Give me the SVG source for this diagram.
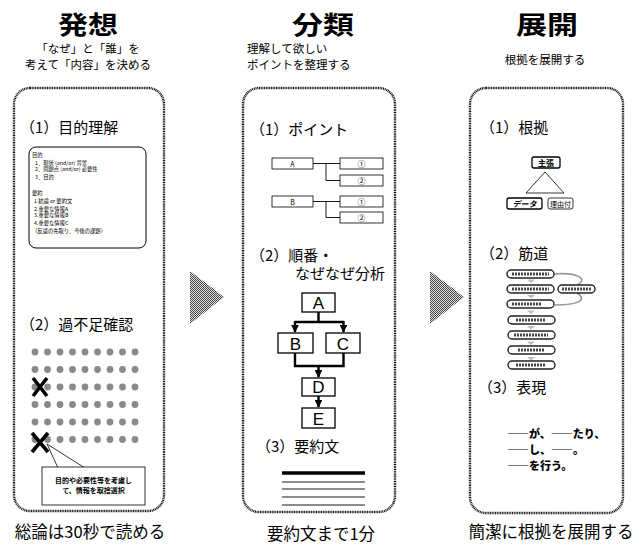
<svg xmlns="http://www.w3.org/2000/svg" width="639" height="550" viewBox="0 0 639 550">
<defs>
<pattern id="chk" width="2" height="2" patternUnits="userSpaceOnUse"><rect width="2" height="2" fill="#e0e0e0"/><rect width="1" height="1" fill="#444"/><rect x="1" y="1" width="1" height="1" fill="#444"/></pattern>
<marker id="ah" viewBox="0 0 10 10" refX="9" refY="5" markerWidth="3.2" markerHeight="3.2" orient="auto"><path d="M0,0 L10,5 L0,10 z" fill="#000"/></marker>
<style>
text{font-family:"Noto Sans CJK JP","Noto Sans",sans-serif;fill:#000}
.title{font-size:25px;font-weight:bold;text-anchor:middle}
.sub{font-size:11.5px}
.h{font-size:15px}
.foot{font-size:16.5px;text-anchor:middle}
.memo{font-size:5.3px}
.panel{fill:none;stroke:#111;stroke-width:2.4;stroke-dasharray:1 0.7}
.dot{fill:#8a8a8a}
.x{stroke:#000;stroke-width:3.6;stroke-linecap:butt}
.bx{fill:#fff;stroke:#000;stroke-width:0.8}
.fb{fill:#fff;stroke:#000;stroke-width:1.3}
.fl{font-family:"Liberation Sans",Arial,sans-serif;font-size:17px;text-anchor:middle}
.fa{fill:none;stroke:#000;stroke-width:2.4}
.pill{fill:#fff;stroke:#222;stroke-width:1.4}
.blur{stroke:#444;stroke-width:3;stroke-dasharray:2 1}
.ga{fill:#bbb}
.exp{font-size:11px;font-weight:900}
.tri{fill:url(#chk)}
</style>
</defs>

<g id="titles">
<text class="title" x="88" y="34" textLength="60" lengthAdjust="spacingAndGlyphs">発想</text>
<text class="title" x="323" y="34" textLength="62" lengthAdjust="spacingAndGlyphs">分類</text>
<text class="title" x="547" y="34" textLength="62" lengthAdjust="spacingAndGlyphs">展開</text>
<text class="sub" x="88" y="53" text-anchor="middle">「なぜ」と「誰」を</text>
<text class="sub" x="88" y="69" text-anchor="middle">考えて「内容」を決める</text>
<text class="sub" x="247" y="53">理解して欲しい</text>
<text class="sub" x="247" y="69">ポイントを整理する</text>
<text class="sub" x="545" y="64" text-anchor="middle">根拠を展開する</text>
</g>

<g id="arrows-between">
<polygon class="tri" points="190,271 224,297 190,324"/>
<polygon class="tri" points="430,271 464,297 430,324"/>
</g>

<g id="panel1">
<rect class="panel" x="14" y="88" width="150" height="423" rx="16"/>
<text class="h" x="20" y="133">（1）目的理解</text>
<rect x="29" y="147" width="117" height="101" rx="7" fill="#fff" stroke="#000" stroke-width="1"/>
<text class="memo" x="32" y="157">目的</text>
<text class="memo" x="35" y="164.5">1．現状 (and/or) 背景</text>
<text class="memo" x="35" y="171">2．問題点 (and/or) 必要性</text>
<text class="memo" x="35" y="179">3．目的</text>
<text class="memo" x="32" y="195">要約</text>
<text class="memo" x="34" y="202.5">1 結論 or 要約文</text>
<text class="memo" x="34" y="210.5">2.重要な情報A</text>
<text class="memo" x="34" y="217">3.重要な情報B</text>
<text class="memo" x="34" y="225">4.重要な情報C</text>
<text class="memo" x="32" y="232.5">（反論の先取り、今後の課題）</text>
<text class="h" x="20" y="330">（2）過不足確認</text>
<g id="dots">
<circle class="dot" cx="35" cy="352" r="3.4"/><circle class="dot" cx="47.5" cy="352" r="3.4"/><circle class="dot" cx="60" cy="352" r="3.4"/><circle class="dot" cx="72.5" cy="352" r="3.4"/><circle class="dot" cx="85" cy="352" r="3.4"/><circle class="dot" cx="97.5" cy="352" r="3.4"/><circle class="dot" cx="110" cy="352" r="3.4"/><circle class="dot" cx="122.5" cy="352" r="3.4"/><circle class="dot" cx="135" cy="352" r="3.4"/>
<circle class="dot" cx="35" cy="369.5" r="3.4"/><circle class="dot" cx="47.5" cy="369.5" r="3.4"/><circle class="dot" cx="60" cy="369.5" r="3.4"/><circle class="dot" cx="72.5" cy="369.5" r="3.4"/><circle class="dot" cx="85" cy="369.5" r="3.4"/><circle class="dot" cx="97.5" cy="369.5" r="3.4"/><circle class="dot" cx="110" cy="369.5" r="3.4"/><circle class="dot" cx="122.5" cy="369.5" r="3.4"/><circle class="dot" cx="135" cy="369.5" r="3.4"/>
<circle class="dot" cx="35" cy="387" r="3.4"/><circle class="dot" cx="47.5" cy="387" r="3.4"/><circle class="dot" cx="60" cy="387" r="3.4"/><circle class="dot" cx="72.5" cy="387" r="3.4"/><circle class="dot" cx="85" cy="387" r="3.4"/><circle class="dot" cx="97.5" cy="387" r="3.4"/><circle class="dot" cx="110" cy="387" r="3.4"/><circle class="dot" cx="122.5" cy="387" r="3.4"/><circle class="dot" cx="135" cy="387" r="3.4"/>
<circle class="dot" cx="35" cy="404.5" r="3.4"/><circle class="dot" cx="47.5" cy="404.5" r="3.4"/><circle class="dot" cx="60" cy="404.5" r="3.4"/><circle class="dot" cx="72.5" cy="404.5" r="3.4"/><circle class="dot" cx="85" cy="404.5" r="3.4"/><circle class="dot" cx="97.5" cy="404.5" r="3.4"/><circle class="dot" cx="110" cy="404.5" r="3.4"/><circle class="dot" cx="122.5" cy="404.5" r="3.4"/><circle class="dot" cx="135" cy="404.5" r="3.4"/>
<circle class="dot" cx="35" cy="422" r="3.4"/><circle class="dot" cx="47.5" cy="422" r="3.4"/><circle class="dot" cx="60" cy="422" r="3.4"/><circle class="dot" cx="72.5" cy="422" r="3.4"/><circle class="dot" cx="85" cy="422" r="3.4"/><circle class="dot" cx="97.5" cy="422" r="3.4"/><circle class="dot" cx="110" cy="422" r="3.4"/><circle class="dot" cx="122.5" cy="422" r="3.4"/><circle class="dot" cx="135" cy="422" r="3.4"/>
<circle class="dot" cx="35" cy="439.5" r="3.4"/><circle class="dot" cx="47.5" cy="439.5" r="3.4"/><circle class="dot" cx="60" cy="439.5" r="3.4"/><circle class="dot" cx="72.5" cy="439.5" r="3.4"/><circle class="dot" cx="85" cy="439.5" r="3.4"/><circle class="dot" cx="97.5" cy="439.5" r="3.4"/><circle class="dot" cx="110" cy="439.5" r="3.4"/><circle class="dot" cx="122.5" cy="439.5" r="3.4"/><circle class="dot" cx="135" cy="439.5" r="3.4"/>
</g>
<path class="x" d="M33,378 L47,396 M47,378 L33,396"/>
<path class="x" d="M32,433 L48,452 M48,433 L32,452"/>
<path d="M47,444 L58,468 M47,444 L85,468" fill="none" stroke="#000" stroke-width="0.8"/>
<rect class="bx" x="42" y="467" width="103" height="38"/>
<text x="93.5" y="483" font-size="7" font-weight="bold" text-anchor="middle">目的や必要性等を考慮し</text>
<text x="93.5" y="493" font-size="7" font-weight="bold" text-anchor="middle">て、情報を取捨選択</text>
<text class="foot" x="90" y="538">総論は30秒で読める</text>
</g>

<g id="panel2">
<rect class="panel" x="243" y="88" width="152" height="424" rx="16"/>
<text class="h" x="250" y="135">（1）ポイント</text>
<rect class="bx" x="272" y="158" width="41" height="11"/><text x="292.5" y="166.5" font-size="7" font-family="Liberation Sans" text-anchor="middle">A</text>
<rect class="bx" x="340" y="158" width="43" height="11"/><text x="361.5" y="166.5" font-size="8" text-anchor="middle">①</text>
<rect class="bx" x="340" y="175" width="43" height="11"/><text x="361.5" y="183.5" font-size="8" text-anchor="middle">②</text>
<path d="M313,163.5 H340 M326,163.5 V180.5 H340" fill="none" stroke="#000" stroke-width="0.9"/>
<rect class="bx" x="272" y="196" width="41" height="11"/><text x="292.5" y="204.5" font-size="7" font-family="Liberation Sans" text-anchor="middle">B</text>
<rect class="bx" x="340" y="196" width="43" height="11"/><text x="361.5" y="204.5" font-size="8" text-anchor="middle">①</text>
<rect class="bx" x="340" y="212" width="43" height="11"/><text x="361.5" y="220.5" font-size="8" text-anchor="middle">②</text>
<path d="M313,201.5 H340 M326,201.5 V217.5 H340" fill="none" stroke="#000" stroke-width="0.9"/>
<text class="h" x="250" y="261">（2）順番・</text>
<text class="h" x="295" y="279">なぜなぜ分析</text>
<g id="flow">
<rect class="fb" x="302" y="293" width="33" height="19"/><text class="fl" x="318.5" y="309">A</text>
<rect class="fb" x="278" y="333" width="35" height="20"/><text class="fl" x="295.5" y="349.5">B</text>
<rect class="fb" x="326" y="333" width="34" height="20"/><text class="fl" x="343" y="349.5">C</text>
<rect class="fb" x="302" y="378" width="33" height="18"/><text class="fl" x="318.5" y="393">D</text>
<rect class="fb" x="302" y="408" width="33" height="20"/><text class="fl" x="318.5" y="424.5">E</text>
</g>
<g id="connectors">
<path class="fa" d="M318.5,312 V322 M295,322 H344"/>
<path class="fa" d="M295,321 V332" marker-end="url(#ah)"/>
<path class="fa" d="M343.5,321 V332" marker-end="url(#ah)"/>
<path class="fa" d="M295,353 V366 H343.5 V353"/>
<path class="fa" d="M318.5,366 V377" marker-end="url(#ah)"/>
<path class="fa" d="M318.5,396 V407" marker-end="url(#ah)"/>
</g>
<text class="h" x="256" y="452">（3）要約文</text>
<path d="M282,473 H365" stroke="#000" stroke-width="3.4"/>
<path d="M282,482 H365 M282,489 H365 M282,497 H365 M282,505 H365" stroke="#000" stroke-width="0.9"/>
<text class="foot" x="321" y="540">要約文まで1分</text>
</g>

<g id="panel3">
<rect class="panel" x="470" y="88" width="153" height="425" rx="16"/>
<text class="h" x="480" y="133">（1）根拠</text>
<rect x="532" y="157" width="28" height="11" rx="2" fill="#fff" stroke="#000" stroke-width="1.3"/>
<text x="546" y="165.5" font-size="8" font-weight="bold" text-anchor="middle">主張</text>
<path d="M545,172 L526,193 H564 Z" fill="none" stroke="#000" stroke-width="0.8"/>
<rect x="507" y="198" width="35" height="11" rx="2" fill="#fff" stroke="#000" stroke-width="1.3"/>
<text x="524.5" y="206.5" font-size="8" font-weight="bold" font-style="italic" text-anchor="middle">データ</text>
<rect x="548" y="198" width="25" height="11" rx="2" fill="#fff" stroke="#000" stroke-width="0.8"/>
<text x="560.5" y="206.5" font-size="7" text-anchor="middle">理由付</text>
<text class="h" x="480" y="259">（2）筋道</text>
<g id="path-flow">
<path d="M554,274 C580,272 588,280 577,285 M577,293 C588,300 578,305 555,305" fill="none" stroke="#999" stroke-width="1.6"/>
<path class="ga" d="M527,279.5 H535 L531,283 Z"/>
<path class="ga" d="M527,295 H535 L531,298.5 Z"/>
<path class="ga" d="M527,310.5 H535 L531,314 Z"/>
<path class="ga" d="M527,326 H535 L531,329.5 Z"/>
<path class="ga" d="M527,341.5 H535 L531,345 Z"/>
<path class="ga" d="M527,357 H535 L531,360.5 Z"/>
<rect class="pill" x="507" y="270" width="47" height="8" rx="4"/><path class="blur" d="M512,274 H549"/>
<rect class="pill" x="507" y="285" width="47" height="8" rx="4"/><path class="blur" d="M512,289 H549"/>
<rect class="pill" x="558" y="285" width="37" height="8" rx="4"/><path class="blur" d="M562,289 H591"/>
<rect class="pill" x="507" y="300" width="47" height="8" rx="4"/><path class="blur" d="M512,304 H542"/>
<rect class="pill" x="508" y="316" width="47" height="8" rx="4"/><path class="blur" d="M516,320 H545"/>
<rect class="pill" x="508" y="331" width="47" height="8" rx="4"/><path class="blur" d="M514,335 H548"/>
<rect class="pill" x="508" y="346" width="47" height="8" rx="4"/><path class="blur" d="M518,350 H544"/>
<rect class="pill" x="508" y="361" width="47" height="8" rx="4"/><path class="blur" d="M516,365 H546"/>
</g>
<text class="h" x="478" y="393">（3）表現</text>
<text class="exp" x="507" y="438">――が、――たり、</text>
<text class="exp" x="507" y="454">――し、――。</text>
<text class="exp" x="507" y="470">――を行う。</text>
<text class="foot" x="551" y="538">簡潔に根拠を展開する</text>
</g>
</svg>
